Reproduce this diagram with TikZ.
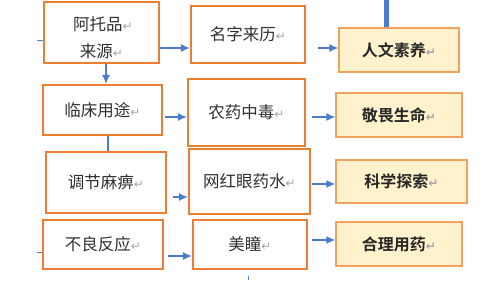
\documentclass[tikz,border=0pt]{standalone}
\usepackage{fontspec}
\newfontfamily\cjk{Noto Sans CJK SC}[BoldFont={* Bold}]
\newfontfamily\markfont{DejaVu Sans}
\usetikzlibrary{arrows.meta}
\definecolor{orangeline}{HTML}{ED7D31}
\definecolor{lightorange}{HTML}{F4A15D}
\definecolor{peach}{HTML}{FFF2CC}
\definecolor{arrowblue}{HTML}{4A7CCB}
\definecolor{txt}{HTML}{303030}
\newcommand{\parmark}{{\markfont\fontsize{12}{12}\selectfont\color{gray!70}↵}}
\tikzset{
  x=1pt,y=-1pt,
  leftbox/.style={draw=orangeline, line width=2.3pt, fill=white, inner sep=0pt, align=center,
    font=\cjk\fontsize{16.5}{27}\selectfont, text=txt},
  lefttext/.style={inner sep=0pt, align=center, font=\cjk\fontsize{16.5}{27}\selectfont, text=txt},
  rightbox/.style={draw=lightorange, line width=1.4pt, fill=peach, inner sep=0pt, align=center,
    font=\cjk\bfseries\fontsize{16}{20}\selectfont, text=black!85},
  arr/.style={draw=arrowblue, line width=1.1pt, -{Latex[length=9pt,width=8pt]}},
  plain/.style={draw=arrowblue, line width=1.2pt}
}
\begin{document}
\begin{tikzpicture}
\useasboundingbox (0,0) rectangle (499,282);
% column 1
\node[leftbox, minimum width=115pt, minimum height=61pt] (b1) at (101.5,32.5) {};
\node[lefttext] (b1t) at ([yshift=-5pt]b1.center) {\,阿托品\parmark\\来源\parmark};
\node[leftbox, minimum width=119pt, minimum height=50pt] (c1) at (102.5,110) {临床用途\parmark};
\node[leftbox, minimum width=120pt, minimum height=61pt] (d1) at (106,182.5) {调节麻痹\parmark};
\node[leftbox, minimum width=120pt, minimum height=49pt] (e1) at (103,244.5) {不良反应\parmark};
% column 2
\node[leftbox, minimum width=114pt, minimum height=57pt] (b2) at (248,34.5) {名字来历\parmark};
\node[leftbox, minimum width=117pt, minimum height=67pt] (c2) at (246.5,112.5) {农药中毒\parmark};
\node[leftbox, minimum width=121pt, minimum height=65pt] (d2) at (249.5,181.5) {网红眼药水\parmark};
\node[leftbox, minimum width=114pt, minimum height=49pt] (e2) at (250,244.5) {美瞳\parmark};
% column 3
\node[rightbox, minimum width=120pt, minimum height=44pt] (b3) at (399,50) {人文素养\parmark};
\node[rightbox, minimum width=126pt, minimum height=44pt] (c3) at (399,115) {敬畏生命\parmark};
\node[rightbox, minimum width=131pt, minimum height=43pt] (d3) at (401.5,181.5) {科学探索\parmark};
\node[rightbox, minimum width=126pt, minimum height=44pt] (e3) at (399,244) {合理用药\parmark};
% connectors
\coordinate (top) at (386.5,0);
\draw[draw=arrowblue, line width=5pt] (top) -- (top |- b3.north);
\draw[arr] ([yshift=-15.5pt]b1.east) -- ([yshift=-15.5pt]b1.east -| b2.west);
\draw[arr] ([xshift=4.5pt]b1.south) -- ([xshift=4.5pt]b1.south |- c1.north);
\draw[plain] ([xshift=5.5pt]c1.south) -- ([xshift=5.5pt]c1.south |- d1.north);
\draw[arr] ([xshift=2pt,yshift=-7pt]c1.east) -- ([yshift=-7pt]c1.east -| c2.west);
\draw[arr] ([xshift=6pt,yshift=-14.5pt]d1.east) -- ([yshift=-14.5pt]d1.east -| d2.west);
\draw[arr] ([xshift=4pt,yshift=-11.5pt]e1.east) -- ([yshift=-11.5pt]e1.east -| e2.west);
\draw[arr] ([xshift=12pt,yshift=-13.5pt]b2.east) -- ([yshift=-13.5pt]b2.east -| b3.west);
\draw[arr] ([xshift=6pt,yshift=-4.5pt]c2.east) -- ([yshift=-4.5pt]c2.east -| c3.west);
\draw[arr] ([xshift=1pt,yshift=-2.5pt]d2.east) -- ([yshift=-2.5pt]d2.east -| d3.west);
\draw[arr] ([xshift=4pt,yshift=4.5pt]e2.east) -- ([yshift=4.5pt]e2.east -| e3.west);
\coordinate (s1) at (37,40);
\draw[plain, line width=1pt] (s1) -- (s1 -| b1.west);
\coordinate (s2) at (37,252);
\draw[plain, line width=1pt] (s2) -- (s2 -| e1.west);
\coordinate (dot) at (248,276);
\draw[plain, line width=1pt] (dot) -- ++(0,4);
\end{tikzpicture}
\end{document}
